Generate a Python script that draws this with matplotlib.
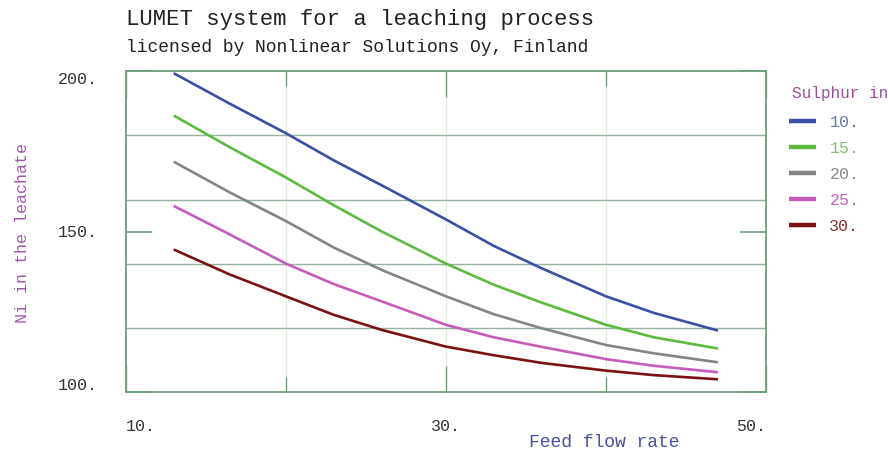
import matplotlib
matplotlib.use('Agg')
import matplotlib.pyplot as plt

# Feed flow rate values where the curves were read
feed = [13, 16.5, 20, 23, 26, 30, 33, 36, 40, 43, 47]

# Ni in the leachate for each sulphur level
ni_10 = [199.4, 189.9, 180.7, 172.2, 164.4, 153.8, 145.5, 138.5, 129.8, 124.6, 119.1]
ni_15 = [186.2, 176.3, 166.9, 158.2, 150.0, 140.0, 133.4, 127.8, 120.9, 117.0, 113.5]
ni_20 = [171.8, 162.2, 153.3, 145.0, 138.0, 129.8, 124.2, 119.8, 114.6, 112.0, 109.2]
ni_25 = [158.0, 149.1, 140.0, 133.6, 128.2, 120.9, 117.0, 114.0, 110.2, 108.1, 106.1]
ni_30 = [144.4, 136.6, 129.8, 124.0, 119.3, 114.1, 111.4, 109.0, 106.6, 105.2, 103.9]

sulphur_labels = ['10.', '15.', '20.', '25.', '30.']
x_ticks = [10, 30, 50]
x_ticklabels = ['10.', '30.', '50.']
y_ticks = [100, 150, 200]
y_ticklabels = ['100.', '150.', '200.']

series = [ni_10, ni_15, ni_20, ni_25, ni_30]
line_colors = ['#3a4fa6', '#5cba3e', '#858585', '#c65cba', '#7a1212']
text_colors = ['#6874b6', '#88bf72', '#8a8a8a', '#c262b6', '#8c3030']

mono = 'Liberation Mono'
frame = '#6d9f7b'

fig = plt.figure(figsize=(8.88, 4.52), dpi=100)
ax = fig.add_axes([0.1416, 0.131, 0.7210, 0.709])

for vals, col, lab in zip(series, line_colors, sulphur_labels):
    ax.plot(feed, vals, color=col, linewidth=1.9, label=lab, solid_capstyle='butt')

ax.set_xlim(10, 50)
ax.set_ylim(100, 200)

# ticks
ax.set_xticks(x_ticks)
ax.set_xticklabels(x_ticklabels)
ax.set_xticks([20, 40], minor=True)
ax.set_yticks(y_ticks)
ax.set_yticklabels(y_ticklabels)
ax.set_yticks([120, 140, 160, 180], minor=True)

ax.tick_params(axis='x', which='major', direction='in', length=19, width=1,
               color=frame, top=True, pad=19, labelsize=12, labelcolor='#333333')
ax.tick_params(axis='x', which='minor', direction='in', length=11, width=1,
               color=frame, top=True)
ax.tick_params(axis='y', which='major', direction='in', length=19, width=1.2,
               color=frame, right=True, pad=20, labelsize=12, labelcolor='#333333')
ax.tick_params(axis='y', which='minor', length=0)

for lbl in ax.get_xticklabels() + ax.get_yticklabels():
    lbl.set_fontfamily(mono)

xl = ax.get_xticklabels()
xl[0].set_ha('left')
xl[1].set_ha('center')
xl[2].set_ha('right')
yl = ax.get_yticklabels()
yl[0].set_va('bottom')
yl[1].set_va('center')
yl[2].set_va('top')

# grid lines
ax.grid(True, axis='y', which='minor', color='#93b59d', linewidth=1.0)
ax.grid(True, axis='x', which='both', color='#e3ebe3', linewidth=0.8)
ax.set_axisbelow(True)

for sp in ax.spines.values():
    sp.set_color(frame)
    sp.set_linewidth(1.3)

# titles and axis labels
fig.text(0.1416, 0.956, 'LUMET system for a leaching process', fontsize=16,
         family=mono, color='#222222', va='center', ha='left')
fig.text(0.1416, 0.896, 'licensed by Nonlinear Solutions Oy, Finland', fontsize=13,
         family=mono, color='#222222', va='center', ha='left')
fig.text(0.025, 0.4845, 'Ni in the leachate', rotation=90, fontsize=12,
         family=mono, color='#a05aa8', va='center', ha='center')
fig.text(0.681, 0.020, 'Feed flow rate', fontsize=13,
         family=mono, color='#4b4fa2', va='center', ha='center')

# legend
fig.text(0.892, 0.794, 'Sulphur in', fontsize=11.5, family=mono,
         color='#9a4f9a', va='center', ha='left')
leg = ax.legend(loc='upper left', bbox_to_anchor=(0.889, 0.7445),
                bbox_transform=fig.transFigure, frameon=False,
                prop={'family': mono, 'size': 12}, labelcolor=text_colors,
                handlelength=1.6, handletextpad=0.8, labelspacing=0.66,
                borderpad=0, borderaxespad=0)
for h in leg.get_lines():
    h.set_linewidth(3.2)

fig.savefig('out.png', dpi=100)
